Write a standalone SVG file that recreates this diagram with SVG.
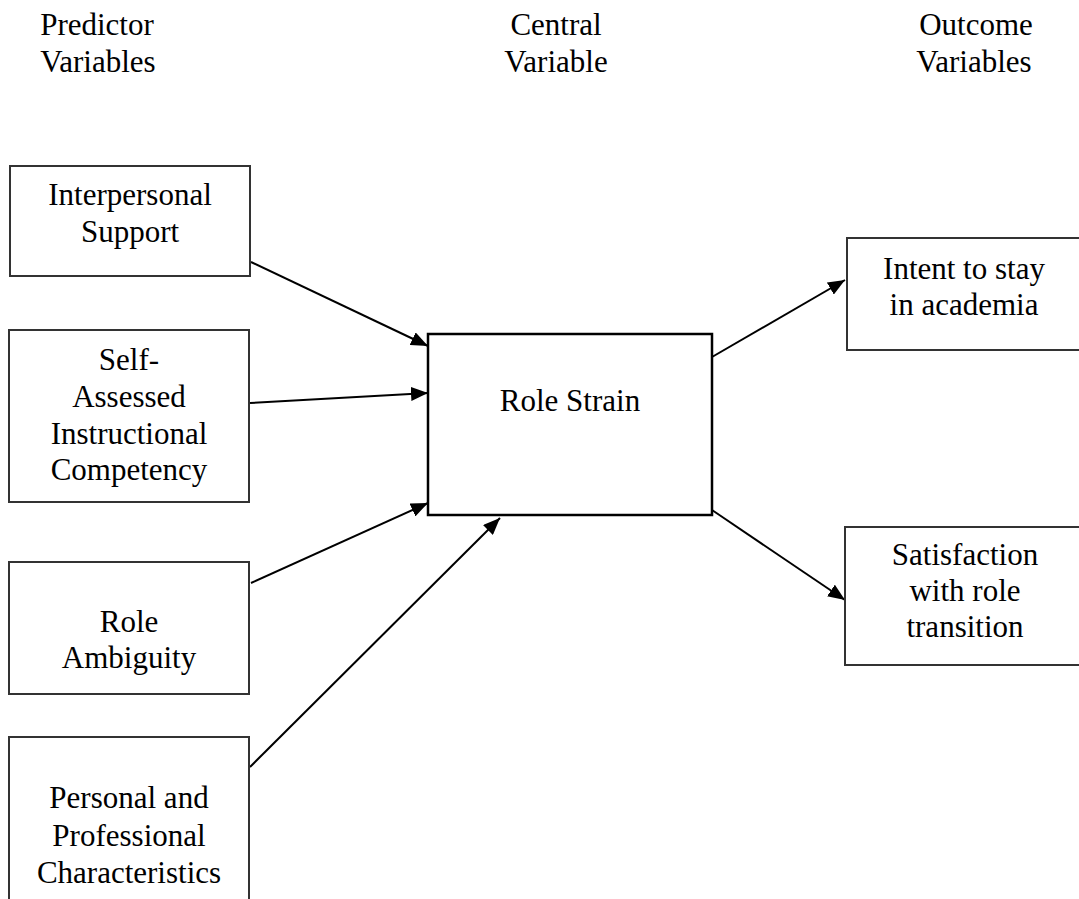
<svg xmlns="http://www.w3.org/2000/svg" width="1079" height="899" viewBox="0 0 1079 899">
<style>
text{font-family:"Liberation Serif","Times New Roman",serif;font-size:31px;fill:#000;text-anchor:middle}
.box{fill:#fff;stroke:#333;stroke-width:2}
.main{fill:#fff;stroke:#000;stroke-width:2.5}
.arr{stroke:#000;stroke-width:2;fill:none;marker-end:url(#ah)}
</style>
<defs>
<marker id="ah" markerUnits="userSpaceOnUse" markerWidth="18" markerHeight="14" refX="17" refY="7" orient="auto">
<path d="M0,0 L17,7 L0,14 z" fill="#000"/>
</marker>
</defs>
<g id="headers">
<text x="97" y="35">Predictor</text>
<text x="98" y="72">Variables</text>
<text x="556" y="35">Central</text>
<text x="556" y="72">Variable</text>
<text x="976" y="35">Outcome</text>
<text x="974" y="72">Variables</text>
</g>
<g id="connectors">
<line class="arr" x1="251" y1="262" x2="428" y2="346"/>
<line class="arr" x1="250" y1="403" x2="428" y2="393"/>
<line class="arr" x1="251" y1="583" x2="428" y2="503"/>
<line class="arr" x1="250" y1="767" x2="500" y2="518"/>
<line class="arr" x1="712" y1="357" x2="845" y2="280"/>
<line class="arr" x1="712" y1="510" x2="845" y2="600"/>
</g>
<g id="interpersonal">
<rect class="box" x="10" y="166" width="240" height="110"/>
<text x="130" y="205">Interpersonal</text>
<text x="130" y="242">Support</text>
</g>
<g id="self-assessed">
<rect class="box" x="9" y="330" width="240" height="172"/>
<text x="129" y="370">Self-</text>
<text x="129" y="407">Assessed</text>
<text x="129" y="444">Instructional</text>
<text x="129" y="480">Competency</text>
</g>
<g id="role-ambiguity">
<rect class="box" x="9" y="562" width="240" height="132"/>
<text x="129" y="632">Role</text>
<text x="129" y="668">Ambiguity</text>
</g>
<g id="personal">
<rect class="box" x="9" y="737" width="240" height="175"/>
<text x="129" y="808">Personal and</text>
<text x="129" y="846">Professional</text>
<text x="129" y="883">Characteristics</text>
</g>
<g id="role-strain">
<rect class="main" x="428" y="334" width="284" height="181"/>
<text x="570" y="411">Role Strain</text>
</g>
<g id="intent">
<rect class="box" x="847" y="238" width="240" height="112"/>
<text x="964" y="279">Intent to stay</text>
<text x="964" y="315">in academia</text>
</g>
<g id="satisfaction">
<rect class="box" x="845" y="527" width="240" height="138"/>
<text x="965" y="565">Satisfaction</text>
<text x="965" y="601">with role</text>
<text x="965" y="637">transition</text>
</g>
</svg>
